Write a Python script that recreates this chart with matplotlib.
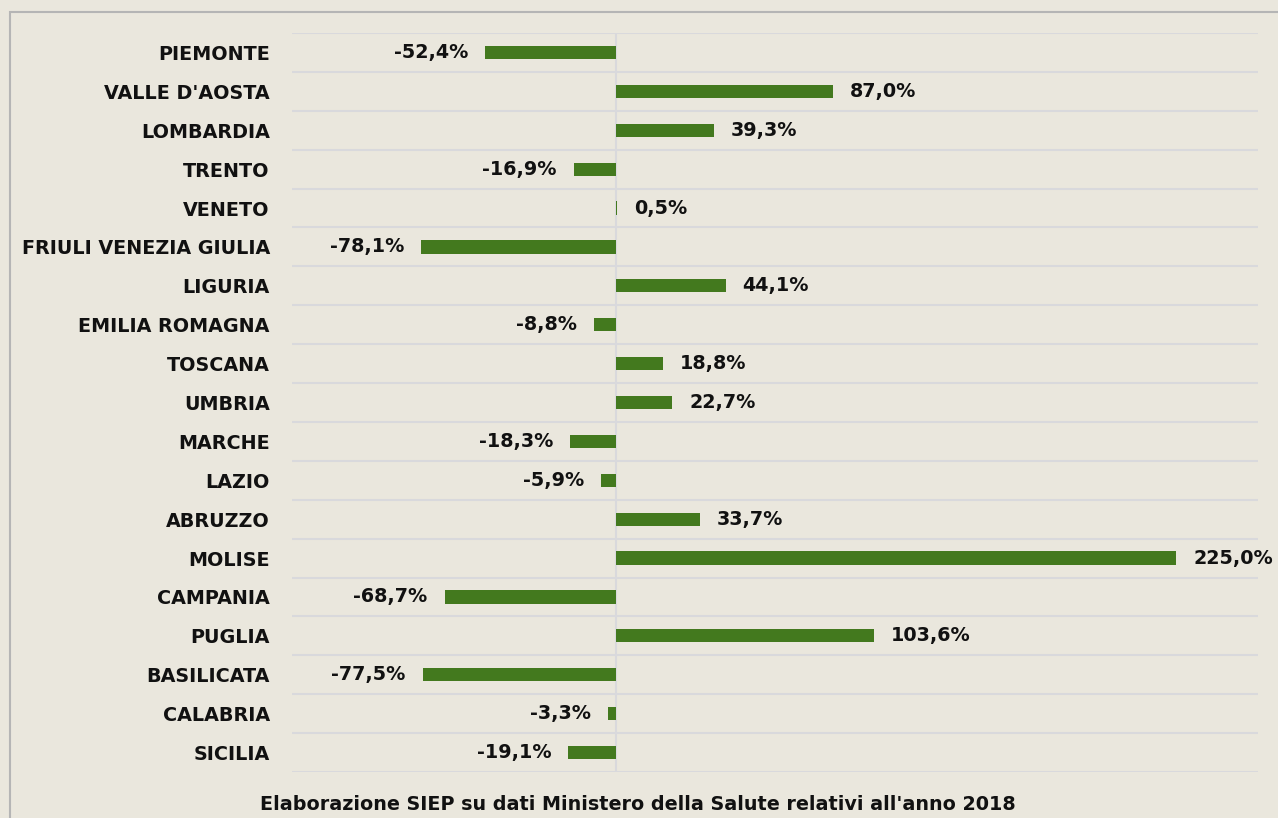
import matplotlib
matplotlib.use("Agg")
import matplotlib.pyplot as plt
from matplotlib.patches import Rectangle
from matplotlib.transforms import offset_copy

regions = ["PIEMONTE", "VALLE D'AOSTA", "LOMBARDIA", "TRENTO", "VENETO",
           "FRIULI VENEZIA GIULIA", "LIGURIA", "EMILIA ROMAGNA", "TOSCANA",
           "UMBRIA", "MARCHE", "LAZIO", "ABRUZZO", "MOLISE", "CAMPANIA",
           "PUGLIA", "BASILICATA", "CALABRIA", "SICILIA"]
values = [-52.4, 87.0, 39.3, -16.9, 0.5, -78.1, 44.1, -8.8, 18.8, 22.7,
          -18.3, -5.9, 33.7, 225.0, -68.7, 103.6, -77.5, -3.3, -19.1]
footer = "Elaborazione SIEP su dati Ministero della Salute relativi all'anno 2018"

BG = "#EAE7DD"
BAR = "#43791E"
GRID = "#D9D9DC"
FS = 13.8

W, H = 1278, 818
fig = plt.figure(figsize=(W / 100, H / 100), dpi=100, facecolor=BG)

# outer frame
fig.patches.append(Rectangle((10 / W, -0.05), 1.2, 1 - 12 / H + 0.05,
                             transform=fig.transFigure, facecolor="none",
                             edgecolor="#B5B5B5", linewidth=1.5))

ax = fig.add_axes([292 / W, 1 - 772 / H, (1258 - 292) / W, (772 - 33) / H])
ax.set_facecolor(BG)
n = len(regions)
ypos = list(range(n))
ax.barh(ypos, values, height=0.34, color=BAR, zorder=3)
ax.set_ylim(n - 0.5, -0.5)
ax.set_xlim(-130, 257.8)

for b in [i - 0.5 for i in range(n + 1)]:
    ax.axhline(b, color=GRID, linewidth=1.5, zorder=1)
ax.axvline(0, color=GRID, linewidth=1.5, zorder=2)

for s in ax.spines.values():
    s.set_visible(False)
ax.set_xticks([])
ax.set_yticks(ypos)
ax.set_yticklabels(regions, fontsize=FS, fontweight="bold", color="#111111")
ax.tick_params(axis="y", length=0, pad=16)

for y, v in zip(ypos, values):
    lab = f"{v:.1f}%".replace(".", ",")
    if v >= 0:
        tr = offset_copy(ax.transData, fig=fig, x=17, y=0, units="dots")
        ax.text(v, y, lab, transform=tr, ha="left", va="center",
                fontsize=FS, fontweight="bold", color="#111111")
    else:
        tr = offset_copy(ax.transData, fig=fig, x=-17, y=0, units="dots")
        ax.text(v, y, lab, transform=tr, ha="right", va="center",
                fontsize=FS, fontweight="bold", color="#111111")

fig.text(638 / W, 1 - 805 / H, footer, ha="center", va="center",
         fontsize=FS, fontweight="bold", color="#111111")

fig.savefig("out.png", dpi=100, facecolor=BG)
